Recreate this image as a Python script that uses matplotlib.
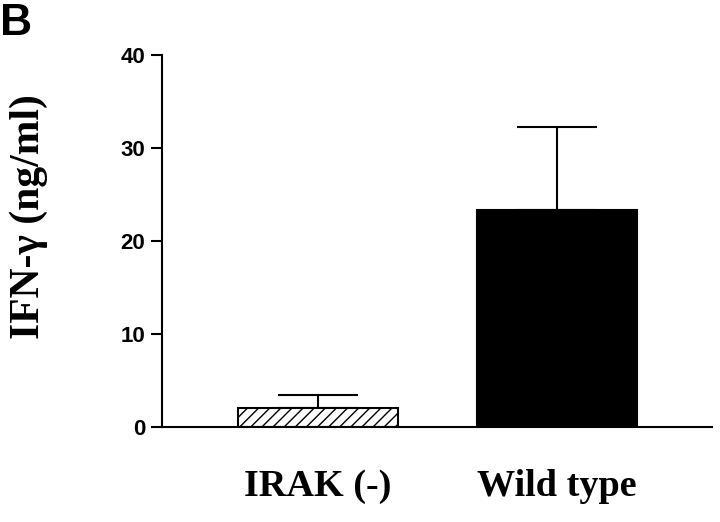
import matplotlib
matplotlib.use("Agg")
import matplotlib.pyplot as plt

categories = ["IRAK (-)", "Wild type"]
values = [2.0, 23.3]
errors = [1.4, 9.0]
yticks = [0, 10, 20, 30, 40]

plt.rcParams['hatch.linewidth'] = 1.0

fig = plt.figure(figsize=(7.2, 5.22), dpi=100)
ax = fig.add_axes([0.225, 0.182, 0.764, 0.7126])

x = [0, 1]
ax.bar(x[0], values[0], width=0.67, color='white', edgecolor='black',
       hatch='///', linewidth=1.5, zorder=2)
ax.bar(x[1], values[1], width=0.67, color='black', edgecolor='black',
       linewidth=1.5, zorder=2)
ax.errorbar(x, values, yerr=[[0, 0], errors], fmt='none', ecolor='black',
            elinewidth=1.5, capsize=28.8, capthick=1.5, zorder=1)

ax.set_xlim(-0.653, 1.649)
ax.set_ylim(0, 40)
ax.set_yticks(yticks)
ax.set_yticklabels([str(t) for t in yticks], fontfamily='Liberation Sans',
                   fontweight='bold', fontsize=16)
ax.set_xticks(x)
ax.set_xticklabels(categories, fontfamily='Liberation Serif',
                   fontweight='bold', fontsize=27.5)
ax.tick_params(axis='x', length=0, pad=30)
ax.tick_params(axis='y', direction='out', length=8, width=1.5, pad=4)

for s in ['top', 'right']:
    ax.spines[s].set_visible(False)
for s in ['left', 'bottom']:
    ax.spines[s].set_linewidth(1.5)

ax.set_ylabel("IFN-γ (ng/ml)", fontfamily='Liberation Serif',
              fontweight='bold', fontsize=30, labelpad=0)
ax.yaxis.set_label_coords(-0.242, 0.565)
ax.yaxis.label.set_verticalalignment('center')

fig.text(0.0, 0.995, "B", fontfamily='Liberation Sans', fontweight='bold',
         fontsize=32, ha='left', va='top')

fig.savefig("out.png", dpi=100)
